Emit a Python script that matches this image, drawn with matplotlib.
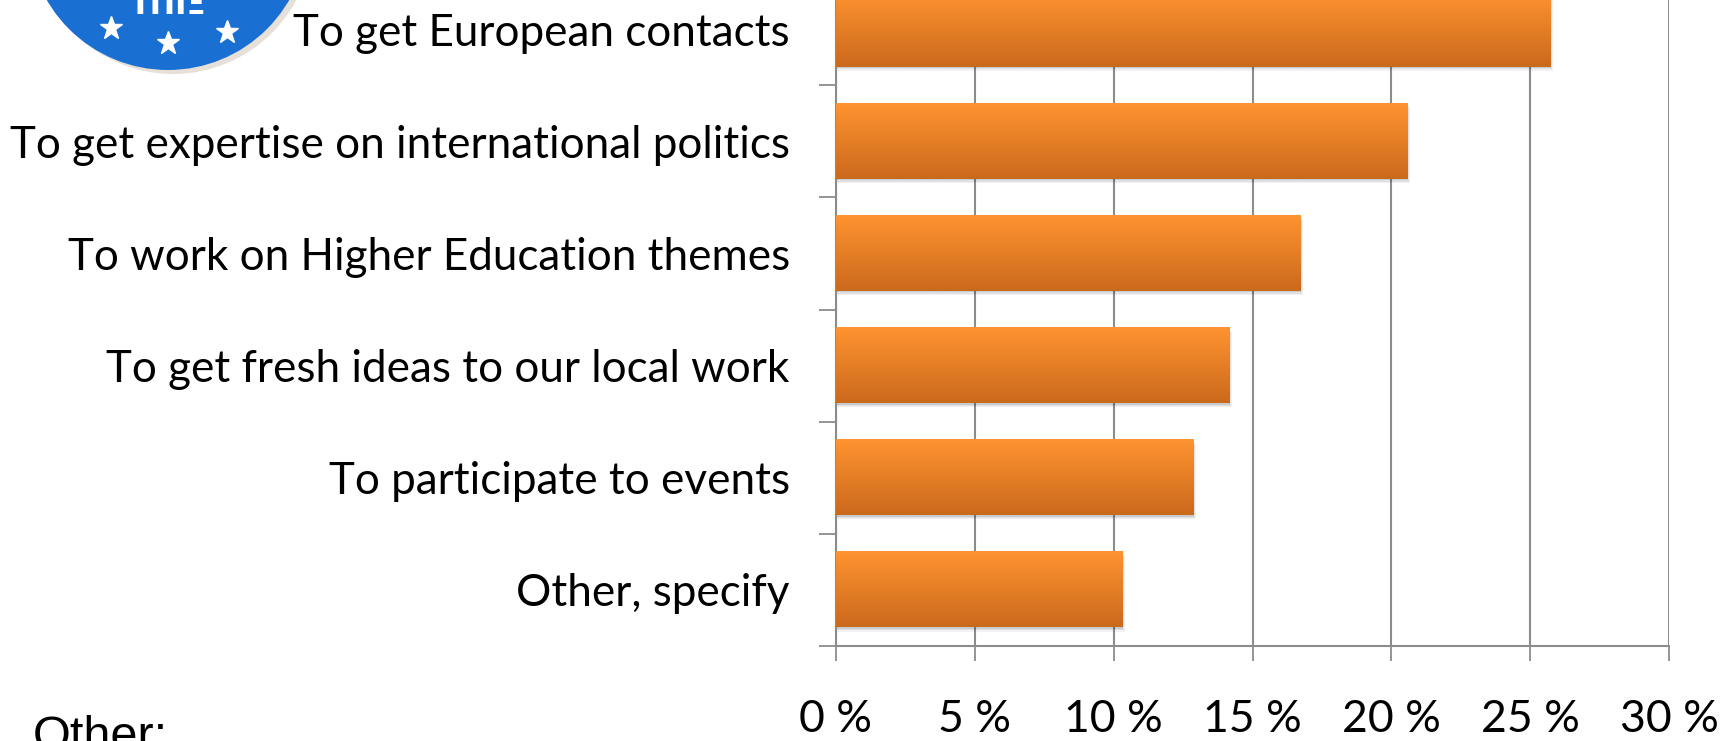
import numpy as np
import matplotlib
matplotlib.use("Agg")
import matplotlib.pyplot as plt
from matplotlib.patches import Circle, Rectangle

# survey answers, top to bottom
categories = ["To get European contacts",
              "To get expertise on international politics",
              "To work on Higher Education themes",
              "To get fresh ideas to our local work",
              "To participate to events",
              "Other, specify"]
shares = [25.7, 20.55, 16.7, 14.15, 12.85, 10.3]
xticks = [0, 5, 10, 15, 20, 25, 30]
xtick_labels = ["%d %%" % t for t in xticks]

W, H = 1731, 741
fig = plt.figure(figsize=(W / 100, H / 100), dpi=100)
ax = fig.add_axes([835.7 / W, 95 / H, 833.6 / W, 673 / H])

grid_col = "#8c8c8c"
bar_h = 0.67
ypos = np.arange(len(categories))

# vertical gradient for bars
top_c = np.array([0xfe, 0x93, 0x30]) / 255
bot_c = np.array([0xcb, 0x69, 0x1c]) / 255
t = np.linspace(0, 1, 64)[:, None]
grad = (top_c * (1 - t) + bot_c * t)[:, None, :]

for y, v in zip(ypos, shares):
    # soft shadow
    for k, a in [(3, 0.05), (2, 0.07), (1, 0.09)]:
        ax.add_patch(Rectangle((0, y - bar_h / 2 + k * 0.012), v + k * 0.04, bar_h,
                               facecolor="black", alpha=a, lw=0, zorder=2))
    ax.imshow(grad, extent=[0, v, y + bar_h / 2, y - bar_h / 2], aspect="auto",
              interpolation="bilinear", zorder=3)

ax.set_xlim(0, 30)
ax.set_ylim(len(categories) - 0.5, -0.5)
ax.set_aspect("auto")

ax.set_xticks(xticks)
ax.set_xticklabels(xtick_labels, family=["Lato", "DejaVu Sans"], fontsize=32)
ax.tick_params(axis="x", length=11, width=1.3, color=grid_col, pad=27)
ax.grid(axis="x", color=grid_col, lw=1.5, zorder=1)
ax.set_axisbelow(True)

ax.set_yticks(ypos)
ax.set_yticklabels(categories, family=["Lato", "DejaVu Sans"], fontsize=30)
ax.set_yticks(np.arange(len(categories) + 1) - 0.5, minor=True)
ax.tick_params(axis="y", which="major", length=0, pad=33)
ax.tick_params(axis="y", which="minor", length=12, width=1.3, color=grid_col)

for s in ["top", "right"]:
    ax.spines[s].set_visible(False)
for s in ["left", "bottom"]:
    ax.spines[s].set_color(grid_col)
    ax.spines[s].set_linewidth(1.5)

# fit the category labels to the width seen in the picture
fig.canvas.draw()
r = fig.canvas.get_renderer()
wmax = max(lb.get_window_extent(r).width for lb in ax.get_yticklabels())
for lb in ax.get_yticklabels():
    lb.set_fontsize(30 * 777 / wmax)

# logo in the top-left corner
lax = fig.add_axes([0, 0, 1, 1])
lax.set_xlim(0, W)
lax.set_ylim(H, 0)
lax.axis("off")
lax.add_patch(Circle((173, -66), 140, facecolor="#b8a890", alpha=0.35, lw=0))
lax.add_patch(Circle((168, -70), 140, facecolor="#1a6fd2", lw=0))
for sx, sy in [(111, 28), (168, 43), (227, 32)]:
    lax.plot(sx, sy, marker="*", ms=17, color="white", mec="white")
lax.text(168, 14, "ΤΠΙΞ", color="white", fontsize=22, ha="center", va="baseline",
         fontweight="bold", family="DejaVu Sans")

fig.text(33 / W, -0.012, "Other:", fontsize=35, family="Liberation Sans",
         ha="left", va="baseline")

fig.savefig("out.png", dpi=100)
